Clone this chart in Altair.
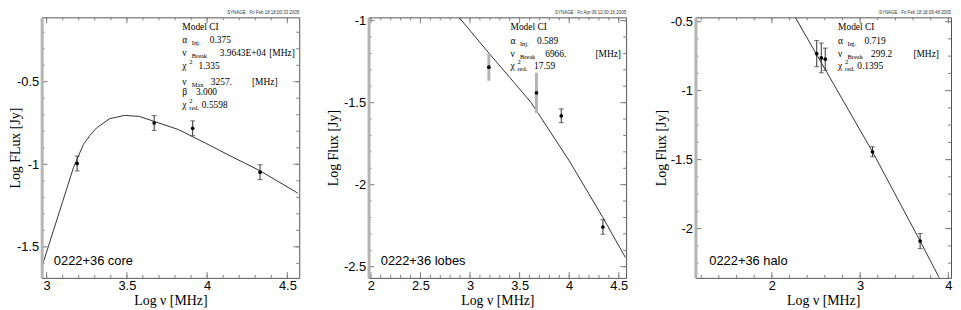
import altair as alt
import pandas as pd

# ---------------- values ----------------
# 0222+36 core
core_logfreq = [3.19, 3.67, 3.91, 4.33]
core_logflux = [-0.995, -0.750, -0.782, -1.048]
core_err = [0.045, 0.045, 0.045, 0.045]
core_model_x = [2.974, 3.04, 3.10, 3.167, 3.198, 3.229, 3.27, 3.311, 3.393,
                3.485, 3.577, 3.669, 3.822, 3.988, 4.16, 4.331, 4.564]
core_model_y = [-1.610, -1.408, -1.225, -1.020, -0.950, -0.880, -0.825, -0.780,
                -0.724, -0.704, -0.710, -0.740, -0.790, -0.871, -0.957, -1.040, -1.174]

# 0222+36 lobes
lobes_logfreq = [3.19, 3.67, 3.92, 4.34]
lobes_logflux = [-1.284, -1.440, -1.580, -2.258]
lobes_err = [0.083, 0.123, 0.042, 0.044]
lobes_model_x = [2.894, 3.2, 3.4, 3.617, 4.0, 4.334, 4.567]
lobes_model_y = [-0.984, -1.205, -1.346, -1.500, -1.854, -2.194, -2.444]

# 0222+36 halo
halo_logfreq = [2.508, 2.56, 2.605, 3.14, 3.68]
halo_logflux = [-0.732, -0.763, -0.772, -1.443, -2.090]
halo_err = [0.095, 0.108, 0.080, 0.036, 0.055]
halo_model_x = [2.265, 2.7, 3.14, 3.68, 3.897]
halo_model_y = [-0.469, -0.953, -1.443, -2.090, -2.357]

# axis ticks
core_xmajor = [3, 3.5, 4, 4.5]
core_ymajor = [-0.5, -1, -1.5]
lobes_xmajor = [2, 2.5, 3, 3.5, 4, 4.5]
lobes_ymajor = [-1, -1.5, -2, -2.5]
halo_xmajor = [2, 3, 4]
halo_ymajor = [-0.5, -1, -1.5, -2]


def steps(a, b, s):
    n = int(round((b - a) / s))
    return [round(a + i * s, 4) for i in range(n + 1)]


core_xminor = steps(3.0, 4.5, 0.1)
core_yminor = steps(-1.6, -0.2, 0.1)
lobes_xminor = steps(2.0, 4.5, 0.1)
lobes_yminor = steps(-2.5, -1.0, 0.1)
halo_xminor = steps(1.2, 4.0, 0.2)
halo_yminor = steps(-2.25, -0.5, 0.125)

# texts
core_notes = [
    ("Model CI", None, None, None, None),
    ("α", "Inj.", None, "0.375", None),
    ("ν", "Break", None, "3.9643E+04", "[MHz]"),
    ("χ", None, "2", "1.335", None),
    ("ν", "Max", None, "3257.", "[MHz]"),
    ("β", None, None, "3.000", None),
    ("χ", "red.", "2", "0.5598", None),
]
lobes_notes = [
    ("Model CI", None, None, None, None),
    ("α", "Inj.", None, "0.589", None),
    ("ν", "Break", None, "6966.", "[MHz]"),
    ("χ", "red.", "2", "17.59", None),
]
halo_notes = [
    ("Model CI", None, None, None, None),
    ("α", "Inj.", None, "0.719", None),
    ("ν", "Break", None, "299.2", "[MHz]"),
    ("χ", "red.", "2", "0.1395", None),
]
panel_labels = ["0222+36 core", "0222+36 lobes", "0222+36 halo"]
headers = ["SYNAGE : Fri Feb 18 18:00:33 2005",
           "SYNAGE : Fri Apr 09 12:00:16 2005",
           "SYNAGE : Fri Feb 18 18:09:48 2005"]
x_title = "Log ν [MHz]"
y_titles = ["Log FLux [Jy]", "Log Flux [Jy]", "Log Flux [Jy]"]

SANS = "Liberation Sans"
SERIF = "Liberation Serif"
TICK = "#808080"
LINE = "#333333"


def txt(t, x, y, size, font=SERIF, align="left", baseline="middle", color="black"):
    return alt.Chart(pd.DataFrame({"t": [t]})).mark_text(
        align=align, baseline=baseline, fontSize=size, font=font, color=color
    ).encode(x=alt.value(x), y=alt.value(y), text="t:N")


def panel(px, py, pe, cx, cy, xdom, ydom, W, H, xmaj, xmin, ymaj, ymin,
          ytitle, ytitle_x, label, label_x, notes, layout, header, grey_n=0):
    sx = alt.Scale(domain=xdom, nice=False, zero=False)
    sy = alt.Scale(domain=ydom, nice=False, zero=False)
    ax = alt.Axis(values=xmaj, title=x_title, labelExpr="'' + datum.value",
                  ticks=False, domain=False, grid=False, labelFont=SANS,
                  labelFontSize=13, labelColor="black", labelPadding=2,
                  labelFlush=False, labelOverlap=False, titleFont=SERIF,
                  titleFontSize=14, titleFontWeight="normal", titleColor="black",
                  titlePadding=1)
    ay = alt.Axis(values=ymaj, title=ytitle, labelExpr="'' + datum.value",
                  ticks=False, domain=True, domainColor="#b4b4b4", domainWidth=3,
                  grid=False, labelFont=SANS, labelFontSize=13, labelColor="black",
                  labelPadding=3, labelFlush=False, labelOverlap=False,
                  titleFont=SERIF, titleFontSize=14, titleFontWeight="normal",
                  titleColor="black", titleX=ytitle_x, zindex=1)

    def X(f):
        return alt.X(f, type="quantitative", scale=sx, axis=ax)

    def Y(f):
        return alt.Y(f, type="quantitative", scale=sy, axis=ay)

    layers = []
    # ticks (inward, all four sides)
    for vals, L in ((xmin, 3), (xmaj, 6)):
        d = pd.DataFrame({"x": vals})
        layers.append(alt.Chart(d).mark_rule(color=TICK, strokeWidth=1).encode(
            x=X("x"), y=alt.value(H), y2=alt.value(H - L)))
        layers.append(alt.Chart(d).mark_rule(color=TICK, strokeWidth=1).encode(
            x=X("x"), y=alt.value(0), y2=alt.value(L)))
    for vals, L in ((ymin, 3), (ymaj, 6)):
        d = pd.DataFrame({"y": vals})
        layers.append(alt.Chart(d).mark_rule(color=TICK, strokeWidth=1).encode(
            y=Y("y"), x=alt.value(0), x2=alt.value(L)))
        layers.append(alt.Chart(d).mark_rule(color=TICK, strokeWidth=1).encode(
            y=Y("y"), x=alt.value(W), x2=alt.value(W - L)))

    # model curve
    cdf = pd.DataFrame({"x": cx, "y": cy})
    layers.append(alt.Chart(cdf).mark_line(color=LINE, strokeWidth=1, clip=True)
                  .encode(x=X("x"), y=Y("y")))

    # data with error bars
    pdf = pd.DataFrame({"x": px, "y": py, "e": pe, "k": list(range(len(px)))})
    base = alt.Chart(pdf).transform_calculate(
        lo="datum.y - datum.e", hi="datum.y + datum.e")
    cond = f"datum.k < {grey_n}"
    layers.append(base.mark_rule(clip=True).encode(
        x=X("x"), y=Y("lo"), y2=alt.Y2("hi:Q"),
        color=alt.condition(cond, alt.value("#b4b4b4"), alt.value("#333333")),
        strokeWidth=alt.condition(cond, alt.value(3), alt.value(1))))
    for f in ("lo", "hi"):
        layers.append(base.transform_filter(f"datum.k >= {grey_n}").mark_tick(
            orient="horizontal", size=5, thickness=1, color="#333333").encode(
            x=X("x"), y=Y(f)))
    layers.append(alt.Chart(pdf).mark_circle(size=14, color="black", opacity=1)
                  .encode(x=X("x"), y=Y("y")))

    # annotations
    x0, ys, vxs, uxs = layout
    for (sym, sub, sup, val, unit), y, vx, ux in zip(notes, ys, vxs, uxs):
        layers.append(txt(sym, x0, y, 9.5))
        if sub:
            layers.append(txt(sub, x0 + (7 if sup else 9.5), y + 3, 6.5))
        if sup:
            layers.append(txt(sup, x0 + 7, y - 3.5, 6.5))
        if val:
            layers.append(txt(val, vx, y, 9.5))
        if unit:
            layers.append(txt(unit, ux, y, 9.5))

    layers.append(txt(label, label_x, H - 17, 13, font=SANS))
    layers.append(txt(header, W, -2, 4.5, font=SANS, align="right",
                      baseline="bottom", color="#333333"))
    return alt.layer(*layers).properties(width=W, height=H)


H = 263
p1 = panel(core_logfreq, core_logflux, core_err, core_model_x, core_model_y,
           [2.969, 4.574], [-1.688, -0.110], 260, H, core_xmajor, core_xminor,
           core_ymajor, core_yminor, y_titles[0], -19, panel_labels[0], 12.3,
           core_notes,
           (142, [9.3, 23.3, 35.7, 49, 65, 75, 88.3],
            [None, 169.7, 179.7, 158.3, 170.7, 155.7, 161.7],
            [None, None, 229.7, None, 212.3, None, None]),
           headers[0])
p2 = panel(lobes_logfreq, lobes_logflux, lobes_err, lobes_model_x, lobes_model_y,
           [1.977, 4.574], [-2.568, -0.980], 260, H, lobes_xmajor, lobes_xminor,
           lobes_ymajor, lobes_yminor, y_titles[1], -28, panel_labels[1], 12.3,
           lobes_notes,
           (143.3, [9.3, 24, 36.7, 49], [None, 170, 178.3, 167],
            [None, None, 229, None]),
           headers[1], grey_n=2)
p3 = panel(halo_logfreq, halo_logflux, halo_err, halo_model_x, halo_model_y,
           [1.134, 4.03], [-2.357, -0.469], 258, H, halo_xmajor, halo_xminor,
           halo_ymajor, halo_yminor, y_titles[2], -27, panel_labels[2], 14,
           halo_notes,
           (144, [9.3, 23.7, 36.7, 48.7], [None, 170.7, 177.3, 163.3],
            [None, None, 220, None]),
           headers[2])

chart = alt.hconcat(p1, p2, p3, spacing=70, bounds="flush").properties(
    padding=0, background="white"
).configure_view(stroke="#555555", strokeWidth=1)

chart.save("out.html", embed_options={"renderer": "svg", "actions": False})
